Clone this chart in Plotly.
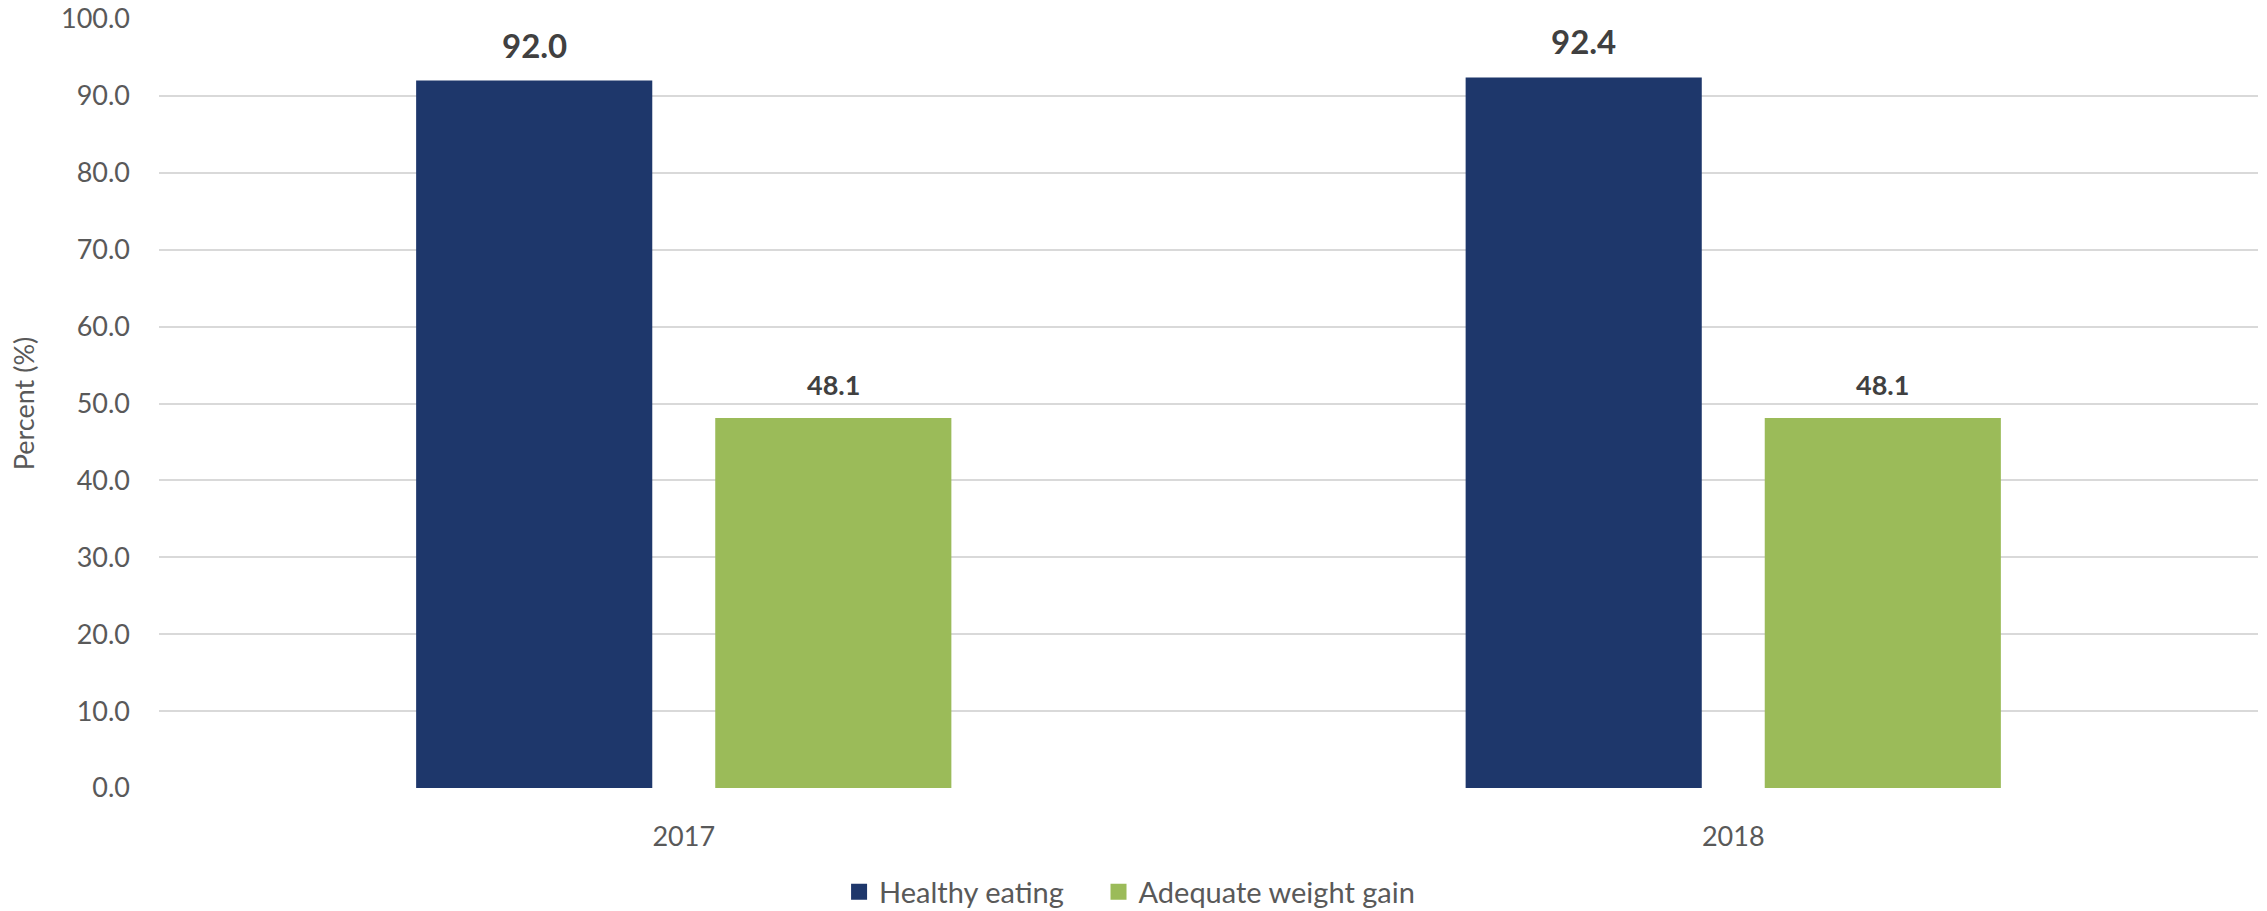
import plotly.graph_objects as go

years = ["2017", "2018"]
healthy_eating = [92.0, 92.4]
adequate_weight_gain = [48.1, 48.1]
series_names = ["Healthy eating", "Adequate weight gain"]
y_ticks = [0, 10, 20, 30, 40, 50, 60, 70, 80, 90, 100]
y_tick_labels = [f"{v:.1f}" for v in y_ticks]

BLUE = "#1e376b"
GREEN = "#9bbb59"
FONT = "Lato, 'Open Sans', sans-serif"

# bar geometry in category units (each year occupies one unit)
BAR_W = 0.225
OFFSETS = [-0.255, 0.03]

fig = go.Figure()
series = [
    (series_names[0], healthy_eating, BLUE, OFFSETS[0], "legend"),
    (series_names[1], adequate_weight_gain, GREEN, OFFSETS[1], "legend2"),
]
for name, vals, col, off, _ in series:
    fig.add_trace(go.Bar(
        x=years, y=vals, name=name, marker=dict(color=col, line=dict(width=0)),
        width=BAR_W, offset=off, showlegend=False,
    ))

# legend entries with larger square swatches
for name, vals, col, off, leg in series:
    fig.add_trace(go.Scatter(
        x=[None], y=[None], mode="markers", name=name, legend=leg,
        marker=dict(symbol="square", size=16, color=col, line=dict(width=0)),
        showlegend=True,
    ))

# value labels above the bars
for vals, off, size, shift in [(healthy_eating, OFFSETS[0], 33, 14), (adequate_weight_gain, OFFSETS[1], 27, 15)]:
    for i, v in enumerate(vals):
        fig.add_annotation(
            x=i + off + BAR_W / 2, y=v, text=f"<b>{v:.1f}</b>", showarrow=False,
            xref="x", yref="y", yanchor="bottom", yshift=shift,
            font=dict(family=FONT, size=size, color="#404040"),
        )

legend_style = dict(orientation="h", xanchor="left", y=-0.135, yanchor="middle",
                    font=dict(family=FONT, size=29, color="#595959"),
                    itemsizing="trace", bgcolor="rgba(0,0,0,0)")

fig.update_layout(
    width=2267, height=911,
    margin=dict(l=159, r=9, t=19, b=123, autoexpand=False),
    plot_bgcolor="white", paper_bgcolor="white",
    barmode="overlay",
    font=dict(family=FONT, size=27, color="#595959"),
    showlegend=True,
    legend=dict(x=0.324, **legend_style),
    legend2=dict(x=0.4476, **legend_style),
)
fig.update_yaxes(
    range=[0, 100], tickvals=y_ticks, ticktext=y_tick_labels,
    showgrid=True, gridcolor="#d9d9d9", gridwidth=2,
    zeroline=False, showline=False, ticks="", ticklabelstandoff=28,
    tickfont=dict(family=FONT, size=27, color="#595959"),
    title=dict(text="Percent (%)", font=dict(family=FONT, size=27, color="#595959"), standoff=18),
)
fig.update_xaxes(
    type="category", showgrid=False, showline=False, zeroline=False, ticks="",
    ticklabelstandoff=30, range=[-0.5, 1.5],
    tickfont=dict(family=FONT, size=27, color="#595959"),
)

fig.write_html("out.html")
